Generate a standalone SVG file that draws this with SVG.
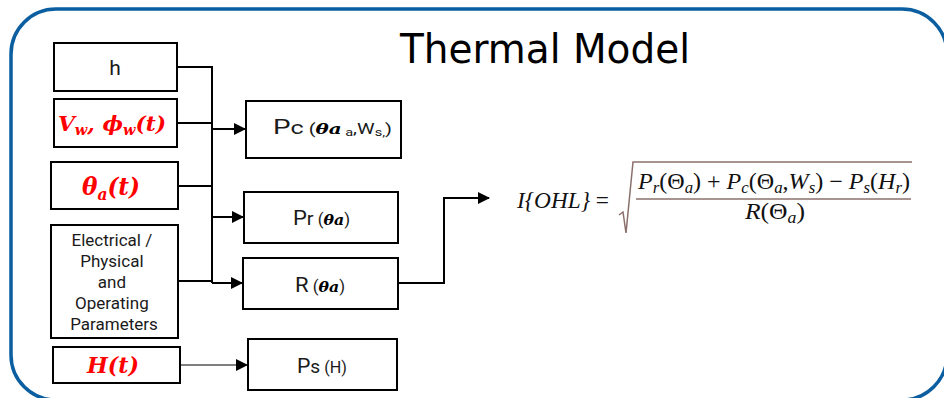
<svg xmlns="http://www.w3.org/2000/svg" width="944" height="398" viewBox="0 0 944 398">
<defs>
<style>
.box{fill:#fff;stroke:#000;stroke-width:2}
.lbl{font-family:Roboto,"Liberation Sans",sans-serif;fill:#1a1a1a}
.red{font-family:"DejaVu Serif","Liberation Serif",serif;font-weight:bold;font-style:italic;fill:#ff0000}
.mth{font-family:"DejaVu Serif","Liberation Serif",serif;font-weight:bold;font-style:italic}
.conn{fill:none;stroke:#000;stroke-width:2}
.thin{fill:none;stroke:#000;stroke-width:1.2}
.eq{font-family:"Liberation Serif",serif;font-style:italic;font-size:23px;fill:#111}
.up{font-style:normal}
.rad{fill:none;stroke:#8a706c;stroke-width:1.5}
</style>
<marker id="ah" markerWidth="12" markerHeight="12" refX="11" refY="6" orient="auto" markerUnits="userSpaceOnUse">
<path d="M0,0 L12,6 L0,12 Z" fill="#000"/>
</marker>
</defs>
<rect x="11" y="9" width="936" height="391" rx="45" fill="#fff" stroke="#0b5ea0" stroke-width="3.5"/>
<text x="545" y="63" text-anchor="middle" font-family="DejaVu Sans,sans-serif" font-size="40" textLength="290" lengthAdjust="spacingAndGlyphs" fill="#000">Thermal Model</text>

<g id="connectors">
<path class="conn" d="M177,67 H212 V283"/>
<path class="conn" d="M177,123 H212"/>
<path class="conn" d="M178,186 H212"/>
<path class="conn" d="M178,281 H212"/>
<path class="conn" d="M212,129 H245" marker-end="url(#ah)"/>
<path class="conn" d="M212,217 H243" marker-end="url(#ah)"/>
<path class="conn" d="M212,283 H242" marker-end="url(#ah)"/>
<path class="thin" d="M180,365 H247" marker-end="url(#ah)"/>
<path class="conn" d="M398,283 H444 V198 H489" marker-end="url(#ah)"/>
</g>

<g id="n-h">
<rect class="box" x="54" y="43" width="123" height="48"/>
<text class="lbl" x="115" y="75" text-anchor="middle" font-size="21">h</text>
</g>
<g id="n-vw">
<rect class="box" x="54" y="99" width="123" height="48"/>
<text class="red" x="58" y="131" font-size="21" textLength="108" lengthAdjust="spacingAndGlyphs">V<tspan font-size="14" dy="4">w</tspan><tspan dy="-4">, ϕ</tspan><tspan font-size="14" dy="4">w</tspan><tspan dy="-4">(t)</tspan></text>
</g>
<g id="n-theta">
<rect class="box" x="51" y="162" width="127" height="47"/>
<text class="red" x="82" y="195" font-size="24" textLength="58" lengthAdjust="spacingAndGlyphs">θ<tspan font-size="16" dy="5">a</tspan><tspan dy="-5">(t)</tspan></text>
</g>
<g id="n-elec">
<rect class="box" x="51" y="225" width="127" height="113"/>
<text class="lbl" x="114" text-anchor="middle" font-size="17">
<tspan x="114" y="246">Electrical /</tspan>
<tspan x="114" y="267">Physical</tspan>
<tspan x="114" y="288">and</tspan>
<tspan x="114" y="309">Operating</tspan>
<tspan x="114" y="330">Parameters</tspan>
</text>
</g>
<g id="n-H">
<rect class="box" x="53" y="347" width="127" height="36"/>
<text class="red" x="87" y="373" font-size="22" textLength="52" lengthAdjust="spacingAndGlyphs">H(t)</text>
</g>
<g id="n-pc">
<rect class="box" x="246" y="101" width="155" height="57"/>
<text class="lbl" x="273" y="134" font-size="21" textLength="119" lengthAdjust="spacingAndGlyphs">P<tspan font-size="19">c</tspan><tspan font-size="15"> (</tspan><tspan class="mth" font-size="15" fill="#000">θa</tspan><tspan font-size="11" dy="2"> a</tspan><tspan font-size="15" dy="-2">,W</tspan><tspan font-size="11" dy="2">s,</tspan><tspan font-size="15" dy="-2">)</tspan></text>
</g>
<g id="n-pr">
<rect class="box" x="244" y="192" width="154" height="51"/>
<text class="lbl" x="293" y="225" font-size="21" textLength="57" lengthAdjust="spacingAndGlyphs">P<tspan font-size="19">r</tspan><tspan font-size="16"> (</tspan><tspan class="mth" font-size="15" fill="#000">θa</tspan><tspan font-size="16">)</tspan></text>
</g>
<g id="n-r">
<rect class="box" x="243" y="258" width="155" height="51"/>
<text class="lbl" x="295" y="292" font-size="21" textLength="50" lengthAdjust="spacingAndGlyphs">R<tspan font-size="16"> (</tspan><tspan class="mth" font-size="15" fill="#000">θa</tspan><tspan font-size="16">)</tspan></text>
</g>
<g id="n-ps">
<rect class="box" x="248" y="339" width="149" height="51"/>
<text class="lbl" x="297" y="373" font-size="21" textLength="50" lengthAdjust="spacingAndGlyphs">P<tspan font-size="19">s</tspan><tspan font-size="16"> (H)</tspan></text>
</g>

<g id="n-formula">
<text class="eq" x="517" y="208" textLength="92" lengthAdjust="spacingAndGlyphs">I{OHL} <tspan class="up">=</tspan></text>
<path class="rad" d="M619,215 L623,212 L626,233 L633,162 H912"/>
<line class="rad" x1="636" y1="199" x2="911" y2="199"/>
<text class="eq" x="638" y="189" textLength="272" lengthAdjust="spacingAndGlyphs">P<tspan font-size="16" dy="4">r</tspan><tspan class="up" dy="-4">(Θ</tspan><tspan font-size="16" dy="4">a</tspan><tspan class="up" dy="-4">) + </tspan>P<tspan font-size="16" dy="4">c</tspan><tspan class="up" dy="-4">(Θ</tspan><tspan font-size="16" dy="4">a</tspan><tspan class="up" dy="-4">,</tspan>W<tspan font-size="16" dy="4">s</tspan><tspan class="up" dy="-4">) − </tspan>P<tspan font-size="16" dy="4">s</tspan><tspan class="up" dy="-4">(</tspan>H<tspan font-size="16" dy="4">r</tspan><tspan class="up" dy="-4">)</tspan></text>
<text class="eq" x="745" y="219" textLength="60" lengthAdjust="spacingAndGlyphs">R<tspan class="up">(Θ</tspan><tspan font-size="16" dy="4">a</tspan><tspan class="up" dy="-4">)</tspan></text>
</g>
</svg>
